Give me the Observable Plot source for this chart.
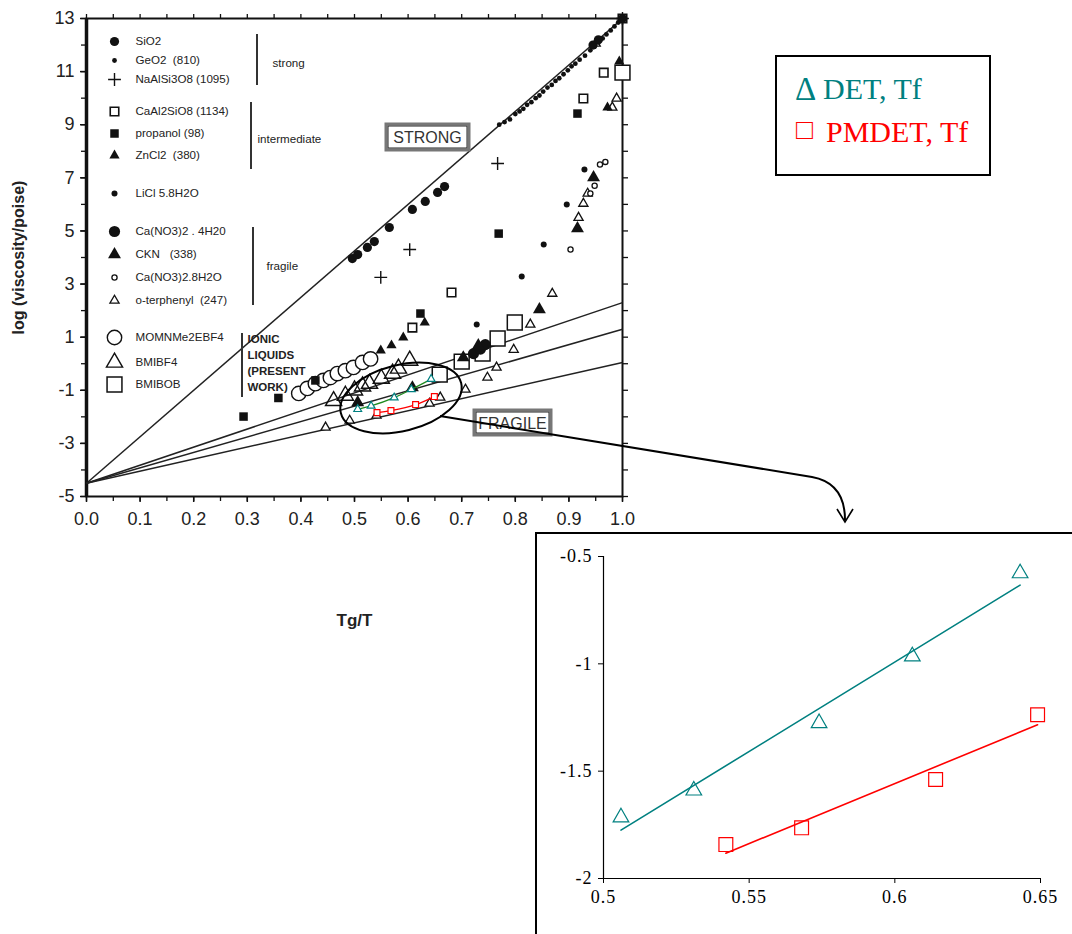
<!DOCTYPE html>
<html>
<head>
<meta charset="utf-8">
<script src="https://cdn.jsdelivr.net/npm/d3@7"></script>
<script src="https://cdn.jsdelivr.net/npm/@observablehq/plot@0.6"></script>
<style>
  body { margin: 0; background: #fff; }
  #wrap { position: relative; width: 1072px; height: 934px; overflow: hidden; background: #fff; }
  #main { position: absolute; left: 0; top: 0; }
  #overlay { position: absolute; left: 0; top: 0; pointer-events: none; }
  #inset { position: absolute; left: 535px; top: 532px; width: 560px; height: 420px; border: 2px solid #000; background: #fff; }
  #legend { position: absolute; left: 775px; top: 55px; width: 212px; height: 117px; border: 2px solid #000; background: #fff;
            font-family: "Liberation Serif", "Times New Roman", serif; }
  #legend span { position: absolute; white-space: pre; line-height: 1; }
</style>
</head>
<body>
<div id="wrap">
  <div id="main"></div>
  <svg id="overlay" width="1072" height="934"></svg>
  <div id="inset"></div>
  <div id="legend">
    <span style="left:18px; top:16px; font-size:33px; color:#008080;">Δ</span>
    <span style="left:46px; top:17px; font-size:30px; color:#008080;">DET, Tf</span>
    <span style="left:19px; top:59px; font-size:28px; color:#ff0000;">□</span>
    <span style="left:49px; top:60px; font-size:30px; color:#ff0000;">PMDET, Tf</span>
  </div>
</div>
<script>
// ---------------- data (Tg/T, log viscosity) ----------------
const SiO2 = [[0.496,3.96],[0.506,4.11],[0.524,4.38],[0.537,4.60],[0.565,5.13],[0.608,5.81],[0.632,6.11],[0.655,6.45],[0.668,6.67],[0.945,12.0],[0.955,12.2],[1.0,13.0]];
const GeO2 = [[0.770,9.0],[0.780,9.1],[0.790,9.2],[0.800,9.4],[0.808,9.5],[0.815,9.6],[0.822,9.75],[0.830,9.85],[0.838,10.0],[0.845,10.1],[0.852,10.25],[0.860,10.4],[0.868,10.5],[0.875,10.65],[0.882,10.75],[0.890,10.9],[0.898,11.05],[0.905,11.2],[0.912,11.3],[0.920,11.45],[0.930,11.6],[0.940,11.8],[0.948,11.95],[0.955,12.1],[0.963,12.25],[0.970,12.4],[0.978,12.55],[0.985,12.7],[0.992,12.85],[1.0,13.0]];
const NaAlSi3O8 = [[0.549,3.25],[0.603,4.30],[0.767,7.54],[1.0,13.0]];
const CaAl2SiO8 = [[0.608,1.36],[0.681,2.68],[0.927,9.99],[0.965,10.96],[1.0,13.0]];
const propanol = [[0.293,-1.99],[0.358,-1.29],[0.427,-0.63],[0.623,1.89],[0.769,4.90],[0.916,9.42]];
const ZnCl2 = [[0.549,0.50],[0.569,0.69],[0.591,0.99],[0.631,1.55],[0.972,9.65],[0.994,11.38]];
const LiCl = [[0.728,1.48],[0.812,3.28],[0.853,4.49],[0.896,6.0],[0.929,7.31]];
const CaNO3_4H2O = [[0.722,0.38],[0.735,0.55],[0.744,0.72]];
const CKN = [[0.506,-1.46],[0.608,-0.90],[0.703,0.23],[0.731,0.69],[0.845,2.04],[0.916,5.09],[0.946,7.01]];
const CaNO3_8H2O = [[0.903,4.30],[0.940,6.41],[0.948,6.70],[0.958,7.50],[0.968,7.60]];
const oTerphenyl = [[0.446,-2.40],[0.491,-2.14],[0.541,-1.95],[0.640,-1.50],[0.660,-1.27],[0.707,-0.97],[0.748,-0.52],[0.765,-0.14],[0.797,0.53],[0.828,1.48],[0.869,2.64],[0.918,5.50],[0.927,6.03],[0.935,6.41],[0.950,12.06],[0.981,9.65],[0.989,9.99]];
const MOMNMe2EBF4 = [[0.396,-1.12],[0.412,-0.93],[0.427,-0.75],[0.442,-0.63],[0.455,-0.52],[0.468,-0.37],[0.483,-0.26],[0.498,-0.14],[0.515,0.05],[0.530,0.18]];
const BMIBF4 = [[0.461,-1.40],[0.483,-1.20],[0.500,-1.00],[0.515,-0.85],[0.528,-0.75],[0.550,-0.56],[0.571,-0.37],[0.582,-0.18],[0.603,0.12]];
const BMIBOB = [[0.659,-0.41],[0.700,0.08],[0.739,0.38],[0.767,0.95],[0.799,1.55],[1.0,10.96]];

// present work (also shown in the inset)
const detX = [0.506, 0.531, 0.574, 0.606, 0.643];
const detY = [-1.715, -1.59, -1.276, -0.965, -0.578];
const pmdetX = [0.542, 0.568, 0.614, 0.649];
const pmdetY = [-1.842, -1.764, -1.539, -1.237];

// reference lines of the Angell plot: common high-T limit and values at Tg/T = 1
const fanPivot = -4.5;
const fanEnds = [13, 2.3, 1.3, 0.05];

// tick labels
const xTicks = [0.0, 0.1, 0.2, 0.3, 0.4, 0.5, 0.6, 0.7, 0.8, 0.9, 1.0];
const yTicks = [-5, -3, -1, 1, 3, 5, 7, 9, 11, 13];
const insetXTicks = [0.5, 0.55, 0.6, 0.65];
const insetYTicks = [-2, -1.5, -1, -0.5];

// legend entries
const legendNames = ["SiO2", "GeO2  (810)", "NaAlSi3O8 (1095)", "CaAl2SiO8 (1134)", "propanol (98)", "ZnCl2  (380)",
  "LiCl 5.8H2O", "Ca(NO3)2 . 4H20", "CKN   (338)", "Ca(NO3)2.8H2O", "o-terphenyl  (247)", "MOMNMe2EBF4", "BMIBF4", "BMIBOB"];

// ---------------- styles ----------------
const ink = "#111";
const seriesList = [
  {data: SiO2,        st: {symbol: "circle",   r: 4.6, fill: ink}},
  {data: GeO2,        st: {symbol: "circle",   r: 2.4, fill: ink}},
  {data: NaAlSi3O8,   st: {symbol: "plus",     r: 4.2, stroke: ink, strokeWidth: 1.4, fill: "none"}},
  {data: CaAl2SiO8,   st: {symbol: "square",   r: 4.8, stroke: ink, strokeWidth: 1.6, fill: "white"}},
  {data: propanol,    st: {symbol: "square",   r: 4.8, fill: ink}},
  {data: ZnCl2,       st: {symbol: "triangle", r: 3.8, fill: ink}},
  {data: LiCl,        st: {symbol: "circle",   r: 3.0, fill: ink}},
  {data: CaNO3_4H2O,  st: {symbol: "circle",   r: 5.6, fill: ink}},
  {data: CKN,         st: {symbol: "triangle", r: 4.8, fill: ink}},
  {data: CaNO3_8H2O,  st: {symbol: "circle",   r: 2.6, stroke: ink, strokeWidth: 1.3, fill: "white"}},
  {data: oTerphenyl,  st: {symbol: "triangle", r: 3.4, stroke: ink, strokeWidth: 1.3, fill: "white"}},
  {data: MOMNMe2EBF4, st: {symbol: "circle",   r: 7.2, stroke: ink, strokeWidth: 1.4, fill: "white"}},
  {data: BMIBF4,      st: {symbol: "triangle", r: 6.0, stroke: ink, strokeWidth: 1.4, fill: "none"}},
  {data: BMIBOB,      st: {symbol: "square",   r: 8.4, stroke: ink, strokeWidth: 1.5, fill: "white"}}
];
// draw order: large open symbols first, then others
const drawOrder = [13, 11, 12, 3, 10, 9, 4, 5, 6, 7, 8, 2, 1, 0];
const legendRowY = [41, 60, 79, 111, 133, 155, 193, 231, 254, 277, 300, 337, 362, 384];
const legendSymX = 114, legendTextX = 135;

const mL = 86, mT = 18, plotW = 536, plotH = 478;
const fanData = fanEnds.map(v => ({y1: fanPivot, y2: v}));
const det = detX.map((x, i) => ({x, y: detY[i]}));
const pmdet = pmdetX.map((x, i) => ({x, y: pmdetY[i]}));

const marks = [];
// axes
marks.push(Plot.axisX({ticks: d3.range(0, 1.0001, 0.05), tickSize: 5, tickFormat: () => "", label: null, strokeWidth: 1.3}));
marks.push(Plot.axisX({ticks: xTicks, tickSize: 6, tickPadding: 10, tickFormat: d => d.toFixed(1), label: null, strokeWidth: 1.5, fill: "#222"}));
marks.push(Plot.axisX({anchor: "top", ticks: d3.range(0, 1.0001, 0.05), tickSize: 5, tickFormat: () => "", label: null, strokeWidth: 1.3}));
marks.push(Plot.axisY({ticks: d3.range(-5, 13.001, 1), tickSize: 5, tickFormat: () => "", label: null, strokeWidth: 1.3}));
marks.push(Plot.axisY({ticks: yTicks, tickSize: 6, tickPadding: 6, tickFormat: d => String(d), label: null, strokeWidth: 1.5, fill: "#222"}));
marks.push(Plot.axisY({anchor: "right", ticks: d3.range(-5, 13.001, 1), tickSize: 5, tickFormat: () => "", label: null, strokeWidth: 1.3}));
marks.push(Plot.frame({stroke: ink, strokeWidth: 2}));
marks.push(Plot.ruleX([0], {stroke: ink, strokeWidth: 3.5}));
// axis titles
marks.push(Plot.text(["log (viscosity/poise)"], {frameAnchor: "left", dx: -68, rotate: -90, textAnchor: "middle", lineAnchor: "middle",
  fontSize: 16, fontWeight: "bold", fill: "#222"}));
marks.push(Plot.text(["Tg/T"], {frameAnchor: "bottom", dy: 124, textAnchor: "middle", lineAnchor: "middle", fontSize: 17, fontWeight: "bold", fill: "#222"}));
// fan of reference lines
marks.push(Plot.link(fanData, {x1: () => 0, x2: () => 1, y1: "y1", y2: "y2", stroke: "#222", strokeWidth: 1.5}));
// series
for (const i of drawOrder) {
  const s = seriesList[i];
  marks.push(Plot.dot(s.data, {x: d => d[0], y: d => d[1], ...s.st}));
}
// present work in main plot
marks.push(Plot.line(det, {x: "x", y: "y", curve: "catmull-rom", stroke: "#1f8a1f", strokeWidth: 1.3}));
marks.push(Plot.line(pmdet, {x: "x", y: "y", curve: "catmull-rom", stroke: "#ff0000", strokeWidth: 1.3}));
marks.push(Plot.dot(det, {x: "x", y: "y", symbol: "triangle", r: 2.9, stroke: "#008080", strokeWidth: 1.2, fill: "white"}));
marks.push(Plot.dot(pmdet, {x: "x", y: "y", symbol: "square", r: 3.3, stroke: "#ff0000", strokeWidth: 1.2, fill: "white"}));
// in-plot legend
legendNames.forEach((name, i) => {
  const s = seriesList[i];
  marks.push(Plot.dot([name], {frameAnchor: "top-left", dx: legendSymX - mL, dy: legendRowY[i] - mT, ...s.st}));
  marks.push(Plot.text([name], {frameAnchor: "top-left", dx: legendTextX - mL, dy: legendRowY[i] - mT,
    textAnchor: "start", lineAnchor: "middle", fontSize: 11.6, fill: "#222"}));
});
// group labels
const groupLabels = [["strong", 272, 63], ["intermediate", 257, 139], ["fragile", 266, 266]];
groupLabels.forEach(([t, x, y]) => marks.push(Plot.text([t], {frameAnchor: "top-left", dx: x - mL, dy: y - mT,
  textAnchor: "start", lineAnchor: "middle", fontSize: 11.6, fill: "#222"})));
marks.push(Plot.text(["IONIC\nLIQUIDS\n(PRESENT\nWORK)"], {frameAnchor: "top-left", dx: 247 - mL, dy: 331 - mT,
  textAnchor: "start", lineAnchor: "top", lineHeight: 1.4, fontSize: 11.5, fontWeight: "bold", fill: "#222"}));

const main = Plot.plot({
  width: 680, height: 650,
  marginLeft: mL, marginRight: 680 - mL - plotW, marginTop: mT, marginBottom: 650 - mT - plotH,
  x: {domain: [0, 1]},
  y: {domain: [-5, 13]},
  style: {fontFamily: "'Liberation Sans', Arial, sans-serif", fontSize: "18px", background: "transparent", color: ink},
  marks
});
document.getElementById("main").appendChild(main);

// ---------------- annotations overlay ----------------
const ov = d3.select("#overlay");
[[257, 34, 85], [251, 102, 169], [253, 227, 305], [242, 333, 397]].forEach(([x, y1, y2]) =>
  ov.append("line").attr("x1", x).attr("x2", x).attr("y1", y1).attr("y2", y2).attr("stroke", "#333").attr("stroke-width", 2));
function labelBox(x, y, w, h, t) {
  ov.append("rect").attr("x", x).attr("y", y).attr("width", w).attr("height", h).attr("fill", "white")
    .attr("stroke", "#777").attr("stroke-width", 3);
  ov.append("rect").attr("x", x + 2).attr("y", y + 2).attr("width", w - 4).attr("height", h - 4).attr("fill", "none")
    .attr("stroke", "#222").attr("stroke-width", 1);
  ov.append("text").attr("x", x + w / 2).attr("y", y + h / 2 + 6).attr("text-anchor", "middle")
    .attr("font-family", "'Liberation Sans', Arial, sans-serif").attr("font-size", 16).attr("fill", "#333").text(t);
}
labelBox(386, 124, 83, 26, "STRONG");
labelBox(474, 410, 77, 25, "FRAGILE");
ov.append("ellipse").attr("cx", 401).attr("cy", 398).attr("rx", 62).attr("ry", 33)
  .attr("transform", "rotate(-14 401 398)").attr("fill", "none").attr("stroke", "#000").attr("stroke-width", 2);
ov.append("path").attr("d", "M440,416 L812,477 Q845,483 845,520").attr("fill", "none").attr("stroke", "#000").attr("stroke-width", 2);
ov.append("path").attr("d", "M837,509 L845,522 L853,509").attr("fill", "none").attr("stroke", "#000").attr("stroke-width", 1.6);

// ---------------- inset ----------------
const inset = Plot.plot({
  width: 560, height: 400,
  marginLeft: 66, marginRight: 57, marginTop: 22, marginBottom: 56,
  x: {domain: [0.5, 0.65]},
  y: {domain: [-2, -0.5]},
  style: {fontFamily: "'Liberation Serif', 'Times New Roman', serif", fontSize: "18px", letterSpacing: "1px", background: "transparent", color: "#000"},
  marks: [
    Plot.axisX({ticks: insetXTicks, tickSize: 5, tickPadding: 7, tickFormat: d => String(d), label: null}),
    Plot.axisY({ticks: insetYTicks, tickSize: 5, tickPadding: 6, tickFormat: d => String(d), label: null}),
    Plot.ruleX([0.5], {stroke: "#000", strokeWidth: 1.2}),
    Plot.ruleY([-2], {stroke: "#000", strokeWidth: 1.2}),
    Plot.linearRegressionY(det, {x: "x", y: "y", stroke: "#008080", strokeWidth: 1.6, ci: 0}),
    Plot.linearRegressionY(pmdet, {x: "x", y: "y", stroke: "#ff0000", strokeWidth: 1.6, ci: 0}),
    Plot.dot(det, {x: "x", y: "y", symbol: "triangle", r: 5.8, stroke: "#008080", strokeWidth: 1.2, fill: "none"}),
    Plot.dot(pmdet, {x: "x", y: "y", symbol: "square", r: 7.8, stroke: "#ff0000", strokeWidth: 1.2, fill: "none"})
  ]
});
document.getElementById("inset").appendChild(inset);
</script>
</body>
</html>
